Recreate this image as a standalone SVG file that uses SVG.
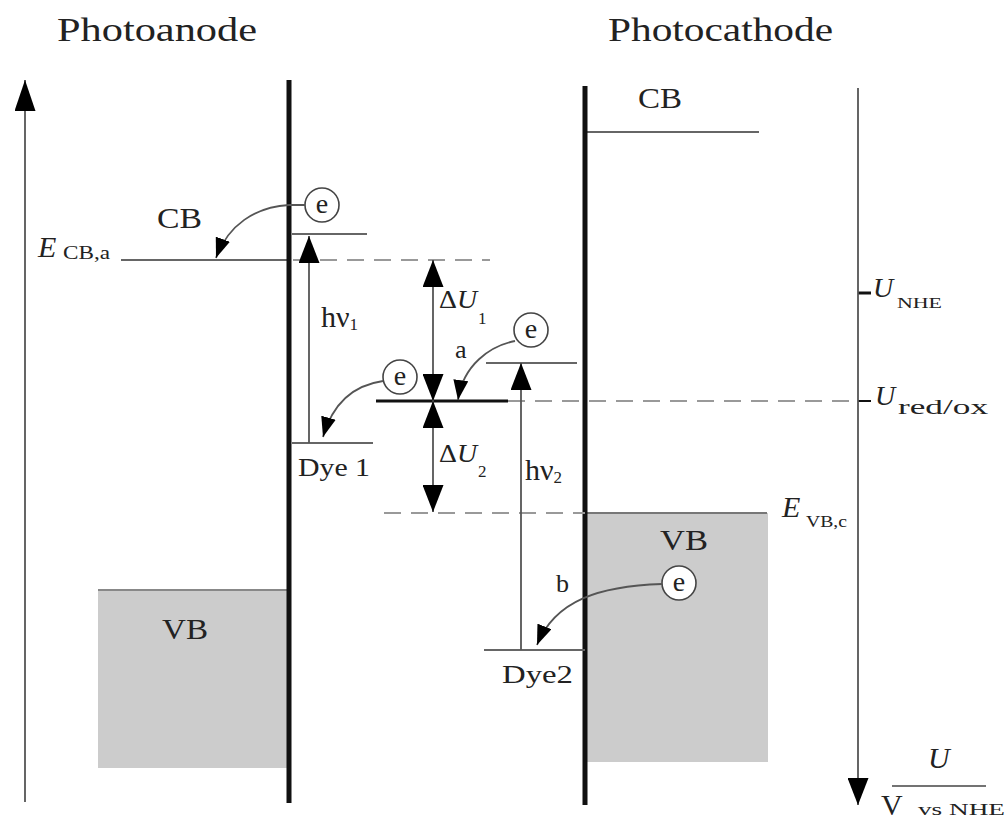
<svg xmlns="http://www.w3.org/2000/svg" width="1006" height="821" viewBox="0 0 1006 821">
<style>
text{font-family:"Liberation Serif","Times New Roman",serif;fill:#222}
.it{font-style:italic}
.thin{stroke:#555;stroke-width:1.8;fill:none}
.lvl{stroke:#666;stroke-width:2;fill:none}
.dash{stroke:#999;stroke-width:2;stroke-dasharray:17 10;fill:none}
.thick{stroke:#111;stroke-width:5;fill:none}
.band{fill:#cccccc;stroke:none}
.ec{fill:#fff;stroke:#444;stroke-width:1.6}
</style>
<defs>
<marker id="big" viewBox="0 0 27 21" refX="27" refY="10.5" markerWidth="27" markerHeight="21" markerUnits="userSpaceOnUse" orient="auto">
<path d="M0,0 L27,10.5 L0,21 z" fill="#000"/>
</marker>
<marker id="axis" viewBox="0 0 31 21" refX="31" refY="10.5" markerWidth="31" markerHeight="21" markerUnits="userSpaceOnUse" orient="auto">
<path d="M0,0 L31,10.5 L0,21 z" fill="#000"/>
</marker>
<marker id="small" viewBox="0 0 20 15" refX="20" refY="7.5" markerWidth="20" markerHeight="15" markerUnits="userSpaceOnUse" orient="auto">
<path d="M0,0 L20,7.5 L0,15 z" fill="#000"/>
</marker>
</defs>

<g id="titles">
<text x="57" y="41" font-size="34" textLength="200" lengthAdjust="spacingAndGlyphs">Photoanode</text>
<text x="608" y="41" font-size="34" textLength="225" lengthAdjust="spacingAndGlyphs">Photocathode</text>
</g>

<g id="photoanode">
<rect class="band" x="98" y="590" width="191" height="178"/>
<line x1="98" y1="590" x2="289" y2="590" stroke="#888" stroke-width="2"/>
<text x="162" y="639" font-size="30" textLength="46" lengthAdjust="spacingAndGlyphs">VB</text>
<line x1="121" y1="260" x2="289" y2="260" class="lvl"/>
<text x="157" y="228" font-size="30" textLength="45" lengthAdjust="spacingAndGlyphs">CB</text>
<text x="38" y="257" font-size="30" class="it">E</text>
<text x="63" y="259" font-size="18" textLength="47" lengthAdjust="spacingAndGlyphs">CB,a</text>
<line x1="289" y1="80" x2="289" y2="803" class="thick"/>
</g>

<g id="photocathode">
<rect class="band" x="587" y="513" width="181" height="249"/>
<line x1="585" y1="513" x2="767" y2="513" stroke="#777" stroke-width="2"/>
<text x="660" y="550" font-size="30" textLength="48" lengthAdjust="spacingAndGlyphs">VB</text>
<line x1="585" y1="132" x2="759" y2="132" class="lvl"/>
<text x="638" y="108" font-size="30" textLength="44" lengthAdjust="spacingAndGlyphs">CB</text>
<text x="782" y="517" font-size="30" class="it">E</text>
<text x="806" y="527" font-size="17" textLength="41" lengthAdjust="spacingAndGlyphs">VB,c</text>
<line x1="585" y1="86" x2="585" y2="805" class="thick"/>
</g>

<g id="dye1">
<line x1="292" y1="234" x2="367" y2="234" class="lvl"/>
<line x1="292" y1="443" x2="373" y2="443" class="lvl"/>
<text x="298" y="476" font-size="25" textLength="72" lengthAdjust="spacingAndGlyphs">Dye 1</text>
<text x="321" y="327" font-size="30">hν<tspan font-size="17" dy="3">1</tspan></text>
</g>

<g id="dye2">
<line x1="486" y1="363" x2="577" y2="363" class="lvl"/>
<line x1="484" y1="650" x2="585" y2="650" class="lvl"/>
<text x="502" y="683" font-size="25" textLength="71" lengthAdjust="spacingAndGlyphs">Dye2</text>
<text x="525" y="480" font-size="30">hν<tspan font-size="17" dy="3">2</tspan></text>
</g>

<g id="redox">
<line x1="376" y1="401" x2="508" y2="401" stroke="#111" stroke-width="3"/>
<line x1="508" y1="401" x2="857" y2="401" class="dash"/>
<line x1="293" y1="260" x2="490" y2="260" class="dash"/>
<line x1="384" y1="513" x2="585" y2="513" class="dash"/>
<text x="439" y="308" font-size="25" textLength="38" lengthAdjust="spacingAndGlyphs">Δ<tspan class="it">U</tspan></text>
<text x="478" y="324" font-size="17">1</text>
<text x="439" y="462" font-size="25" textLength="38" lengthAdjust="spacingAndGlyphs">Δ<tspan class="it">U</tspan></text>
<text x="478" y="477" font-size="17">2</text>
<text x="455" y="358" font-size="26">a</text>
<text x="556" y="592" font-size="26">b</text>
</g>

<g id="electrons">
<circle class="ec" cx="322" cy="205" r="17"/>
<text x="322" y="213" font-size="28" text-anchor="middle">e</text>
<circle class="ec" cx="400" cy="377" r="17"/>
<text x="400" y="385" font-size="28" text-anchor="middle">e</text>
<circle class="ec" cx="531" cy="330" r="17"/>
<text x="531" y="338" font-size="28" text-anchor="middle">e</text>
<circle class="ec" cx="679" cy="583" r="17"/>
<text x="679" y="591" font-size="28" text-anchor="middle">e</text>
</g>

<g id="axes">
<line x1="858" y1="293" x2="871" y2="293" stroke="#111" stroke-width="3"/>
<line x1="858" y1="401" x2="871" y2="401" stroke="#111" stroke-width="2"/>
<text x="873" y="297" font-size="28" class="it">U</text>
<text x="897" y="308" font-size="15" textLength="45" lengthAdjust="spacingAndGlyphs">NHE</text>
<text x="875" y="405" font-size="28" class="it">U</text>
<text x="898" y="414" font-size="22" textLength="90" lengthAdjust="spacingAndGlyphs">red/ox</text>
<text x="928" y="768" font-size="30" class="it">U</text>
<line x1="892" y1="786" x2="986" y2="786" stroke="#444" stroke-width="1.6"/>
<text x="881" y="815" font-size="30">V</text>
<text x="918" y="815" font-size="17" textLength="87" lengthAdjust="spacingAndGlyphs">vs NHE</text>
</g>

<g id="connectors">
<path class="thin" d="M25,802 L25,80" marker-end="url(#axis)"/>
<path class="thin" d="M858,88 L858,805" marker-end="url(#big)"/>
<path class="thin" d="M309,443 L309,236" marker-end="url(#big)"/>
<path class="thin" d="M521,650 L521,363" marker-end="url(#big)"/>
<path class="thin" d="M433,330 L433,260" marker-end="url(#big)"/>
<path class="thin" d="M433,330 L433,401" marker-end="url(#big)"/>
<path class="thin" d="M433,456 L433,401" marker-end="url(#big)"/>
<path class="thin" d="M433,456 L433,512" marker-end="url(#big)"/>
<path class="thin" d="M305,205 L289,205 C255,207 228,225 216,258" marker-end="url(#small)"/>
<path class="thin" d="M383,381 C355,385 333,402 323,437" marker-end="url(#small)"/>
<path class="thin" d="M515,341 C490,346 463,365 458,400" marker-end="url(#small)"/>
<path class="thin" d="M662,584 C600,586 555,600 537,645" marker-end="url(#small)"/>
</g>
</svg>
